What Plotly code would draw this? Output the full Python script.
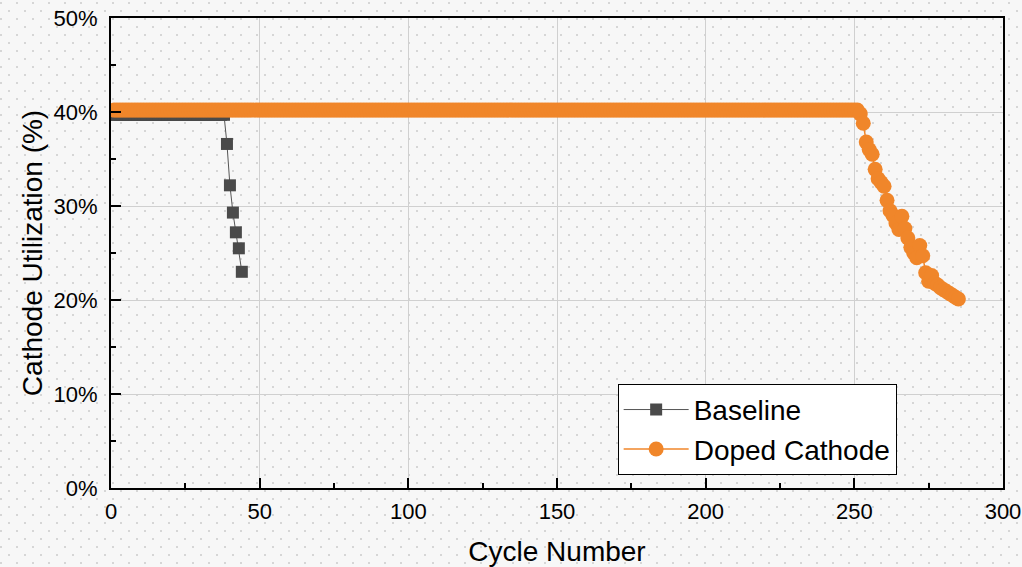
import base64
import plotly.graph_objects as go

# ---- data ----
baseline_plateau_value = 39.7
baseline_plateau_last_cycle = 38
baseline_drop_cycles = [39, 40, 41, 42, 43, 44]
baseline_drop_values = [36.6, 32.2, 29.3, 27.2, 25.5, 23.0]

doped_plateau_value = 40.2
doped_plateau_last_cycle = 251
doped_drop_cycles = [252, 253, 254, 255, 256, 257, 258, 259, 260, 261, 262, 263,
                     264, 265, 266, 267, 268, 269, 270, 271, 272, 273, 274, 275,
                     276, 277, 278, 279, 280, 281, 282, 283, 284, 285]
doped_drop_values = [39.8, 38.8, 36.8, 36.0, 35.5, 33.9, 32.9, 32.5, 32.1, 30.6,
                     29.5, 29.0, 28.2, 27.5, 28.9, 27.6, 26.6, 25.6, 25.0, 24.5,
                     25.8, 24.7, 22.9, 22.0, 22.6, 21.8, 21.6, 21.3, 21.1, 20.9,
                     20.7, 20.5, 20.3, 20.1]

x_ticks = [0, 50, 100, 150, 200, 250, 300]
y_ticks = [0, 10, 20, 30, 40, 50]
y_tick_labels = ["0%", "10%", "20%", "30%", "40%", "50%"]

# ---- build series ----
baseline_x = list(range(1, baseline_plateau_last_cycle + 1)) + baseline_drop_cycles
baseline_y = [baseline_plateau_value] * baseline_plateau_last_cycle + baseline_drop_values
doped_x = list(range(1, doped_plateau_last_cycle + 1)) + doped_drop_cycles
doped_y = [doped_plateau_value] * doped_plateau_last_cycle + doped_drop_values

FONT = "Arial, 'Liberation Sans', sans-serif"
BG = "#f7f7f7"
W, H = 1022, 567
ML, MR, MT, MB = 111, 19, 18, 79
PW, PH = W - ML - MR, H - MT - MB

# dotted background texture (decoration only)
svg = (
    f'<svg xmlns="http://www.w3.org/2000/svg" width="{W}" height="{H}">'
    '<defs><pattern id="p" width="16" height="16" patternUnits="userSpaceOnUse">'
    '<rect x="0" y="2" width="2" height="2" fill="#d6d6d6"/>'
    '<rect x="8" y="10" width="2" height="2" fill="#d6d6d6"/>'
    '</pattern></defs>'
    f'<rect width="{W}" height="{H}" fill="url(#p)"/></svg>'
)
svg_uri = "data:image/svg+xml;base64," + base64.b64encode(svg.encode()).decode()

fig = go.Figure()
fig.add_trace(go.Scatter(
    x=baseline_x, y=baseline_y, name="Baseline", mode="lines+markers",
    line=dict(color="#555555", width=1),
    marker=dict(symbol="square", size=12, color="#4a4a4a"),
))
fig.add_trace(go.Scatter(
    x=doped_x, y=doped_y, name="Doped Cathode", mode="lines+markers",
    line=dict(color="#f0862a", width=1.5),
    marker=dict(symbol="circle", size=15, color="#f0862a"),
))

axis_common = dict(
    showline=True, linecolor="black", linewidth=2, mirror=True,
    ticks="inside", ticklen=10, tickwidth=2, tickcolor="black",
    showgrid=True, gridcolor="#d0d0d0", gridwidth=1, zeroline=False,
    automargin=False,
    tickfont=dict(family=FONT, size=22, color="black"),
    minor=dict(ticks="inside", ticklen=5, tickwidth=2, tickcolor="black", showgrid=False),
)

fig.update_xaxes(
    **axis_common, range=[0, 300], tickvals=x_ticks,
    title=dict(text="Cycle Number", font=dict(family=FONT, size=28, color="black"), standoff=18),
    ticklabelstandoff=3,
)
fig.update_xaxes(minor_dtick=25)
fig.update_yaxes(
    **axis_common, range=[0, 50], tickvals=y_ticks, ticktext=y_tick_labels,
    title=dict(text="Cathode Utilization (%)", font=dict(family=FONT, size=28, color="black"), standoff=3),
    ticklabelstandoff=7,
)
fig.update_yaxes(minor_dtick=5)

fig.update_layout(
    width=W, height=H, autosize=False,
    margin=dict(l=ML, r=MR, t=MT, b=MB, autoexpand=False),
    paper_bgcolor=BG, plot_bgcolor="rgba(0,0,0,0)",
    font=dict(family=FONT, color="black"),
    showlegend=True,
    legend=dict(
        x=0.568, y=0.028, xanchor="left", yanchor="bottom",
        bgcolor="white", bordercolor="black", borderwidth=1,
        font=dict(family=FONT, size=28, color="black"),
        tracegroupgap=0, itemwidth=65,
    ),
    images=[dict(
        source=svg_uri, xref="paper", yref="paper",
        x=-ML / PW, y=1 + MT / PH, sizex=W / PW, sizey=H / PH,
        xanchor="left", yanchor="top", sizing="stretch", layer="below",
    )],
)

fig.write_html(
    "out.html",
    config={"responsive": False, "displayModeBar": False},
    post_script="document.body.style.margin='0';document.body.style.overflow='hidden';",
)
